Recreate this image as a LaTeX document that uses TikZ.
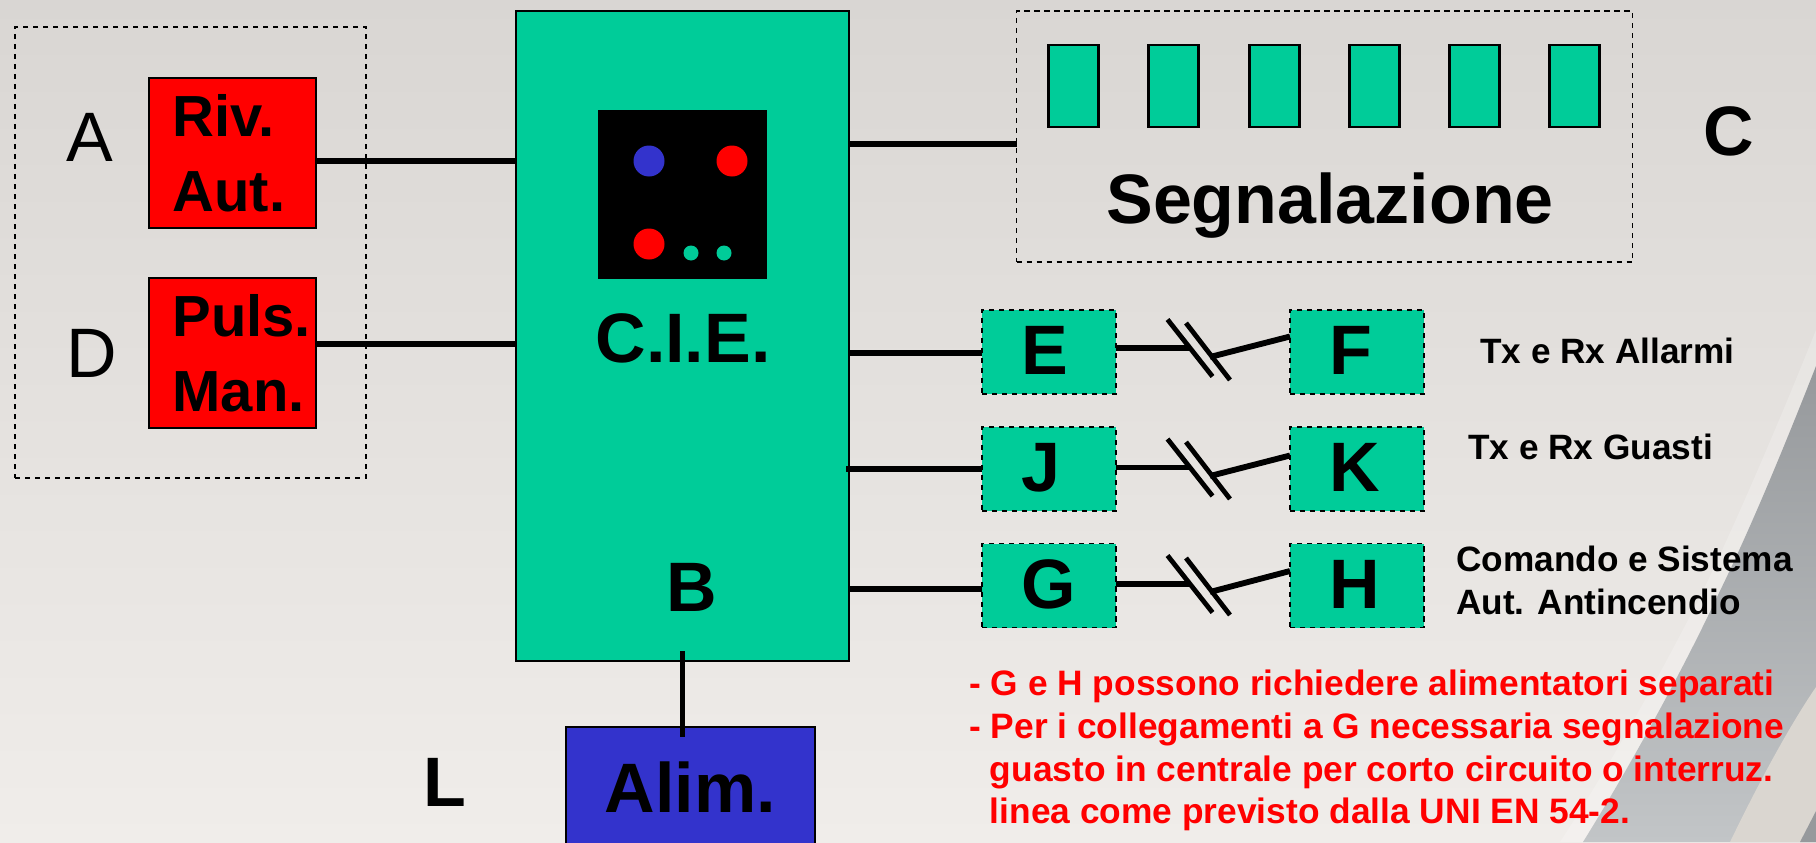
\documentclass[tikz,border=0pt]{standalone}
\usepackage{fontspec}
\setmainfont{Liberation Sans}
\usepackage{xcolor}
\definecolor{cieteal}{HTML}{00CC99}
\definecolor{alimblue}{HTML}{3333CC}
\definecolor{backtop}{HTML}{D9D6D3}
\definecolor{backfoot}{HTML}{F0EDEA}
\definecolor{bandtop}{HTML}{96999C}
\definecolor{bandfoot}{HTML}{C2C5C7}
\definecolor{creamband}{HTML}{DAD6D0}
\begin{document}
\begin{tikzpicture}[x=0.75pt,y=-0.75pt,
		bigfont/.style={font=\bfseries\fontsize{52.5}{63}\selectfont},
		box/.style={draw=black,line width=1.7pt,inner sep=0pt,outer sep=0pt},
		dashbox/.style={draw=black,line width=1.1pt,dash pattern=on 4pt off 3.5pt,outer sep=0pt},
		sensor/.style={box,fill=red,minimum width=125pt,minimum height=112.5pt,inner xsep=17.5pt,text width=90pt,align=left,font=\bfseries\fontsize{43.5}{53.25}\selectfont,execute at begin node={\vspace*{3pt}}},
		lamp/.style={box,fill=cieteal,minimum width=37.5pt,minimum height=62pt},
		relay/.style={dashbox,fill=cieteal,minimum width=100.5pt,minimum height=63pt,inner xsep=29.5pt,inner ysep=0pt,text width=41.5pt,align=left,text height=33.75pt,text depth=0pt,bigfont},
		led/.style={circle,minimum size=23.25pt,inner sep=0pt},
		minled/.style={circle,fill=cieteal,minimum size=11.25pt,inner sep=0pt},
		tag/.style={inner sep=0pt,anchor=base,bigfont},
		thintag/.style={inner sep=0pt,anchor=base west,font=\fontsize{52.5}{63}\selectfont},
		note/.style={inner sep=0pt,anchor=base west,align=left,font=\bfseries\fontsize{26.4}{32}\selectfont},
		rednote/.style={inner sep=0pt,anchor=north west,align=left,text=red,font=\bfseries\fontsize{26.5}{32}\selectfont},
		wire/.style={line width=4.4pt},
		cut/.style={line width=3.6pt}]
	\useasboundingbox (0,0) rectangle (1816,842);
	\shade[top color=backtop,bottom color=backfoot] (0,0) rectangle (1816,842);
	\fill[white,opacity=0.2] (1816,330) .. controls (1780,420) and (1735,525) .. (1700,597) .. controls (1670,655) and (1620,750) .. (1560,842) -- (1816,842) -- cycle;
	\shade[top color=bandtop,bottom color=bandfoot] (1816,366) .. controls (1785,445) and (1750,530) .. (1717,597) .. controls (1690,655) and (1640,750) .. (1583,842) -- (1816,842) -- cycle;
	\fill[creamband] (1816,687) .. controls (1790,725) and (1760,780) .. (1730,842) -- (1816,842) -- cycle;
	\fill[bandtop] (1816,811) -- (1800,842) -- (1816,842) -- cycle;

	\node[dashbox,minimum width=263.25pt,minimum height=338.25pt] (inputs) at (190.5,252.5) {};
	\node[thintag] (tagA) at (66,161) {A};
	\node[thintag] (tagD) at (66,377) {D};
	\node[sensor] (riv) at (232.5,153) {Riv.\\Aut.};
	\node[sensor] (puls) at (232.5,353) {Puls.\\Man.};

	\node[box,fill=cieteal,minimum width=249.5pt,minimum height=487.5pt] (cie) at (682.5,336) {};
	\node[box,draw=none,fill=black,minimum width=126.75pt,minimum height=126.75pt] (panel) at (682.5,194.5) {};
	\node[led,fill=alimblue] (ledblue) at (649,161) {};
	\node[led,fill=red] (ledright) at (732,161) {};
	\node[led,fill=red] (ledleft) at (649,244) {};
	\node[minled] (minledone) at (691,253) {};
	\node[minled] (minledtwo) at (724,253) {};
	\node[tag] (cielabel) at (683,362) {C.I.E.};
	\node[tag] (tagB) at (691.5,611) {B};

	\node[dashbox,minimum width=462pt,minimum height=188.25pt] (signal) at (1324.5,136.5) {};
	\node[lamp] (lampone) at (1073.5,86) {};
	\node[lamp] (lamptwo) at (1173.5,86) {};
	\node[lamp] (lampthree) at (1274.5,86) {};
	\node[lamp] (lampfour) at (1374.5,86) {};
	\node[lamp] (lampfive) at (1474.5,86) {};
	\node[lamp] (lampsix) at (1574.5,86) {};
	\node[tag] (signallabel) at (1330,223) {Segnalazione};
	\node[tag] (tagC) at (1729,155) {C};

	\node[relay] (e) at (1049,352) {E};
	\node[relay] (f) at (1357,352) {F};
	\node[relay] (j) at (1049,469) {J};
	\node[relay] (k) at (1357,469) {K};
	\node[relay] (g) at (1049,585.5) {G};
	\node[relay] (h) at (1357,585.5) {H};
	\node[note] (notealarm) at (1480,363) {Tx e Rx Allarmi};
	\node[note] (notefault) at (1468,459) {Tx e Rx Guasti};
	\node[note] (notecommand) at (1456,614) {Comando e Sistema\\Aut. Antincendio};
	\node[rednote] (noteextra) at (969,670) {- G e H possono richiedere alimentatori separati\\- Per i collegamenti a G necessaria segnalazione\\\hspace*{15.5pt}guasto in centrale per corto circuito o interruz.\\\hspace*{15.5pt}linea come previsto dalla UNI EN 54-2.};

	\node[box,fill=alimblue,minimum width=187.25pt,minimum height=127.5pt,text height=37.5pt,text depth=37.5pt,bigfont] (alim) at (690.5,812) {Alim.};
	\node[tag] (tagL) at (445,806) {L};

	\draw[wire] (riv.east |- 0,161) -- (cie.west |- 0,161);
	\draw[wire] (puls.east |- 0,344) -- (cie.west |- 0,344);
	\draw[wire] (cie.east |- 0,144) -- (signal.west |- 0,144);
	\draw[wire] (cie.east |- 0,353) -- (e.west |- 0,353);
	\draw[wire] ([xshift=-2pt]cie.east |- 0,469) -- (j.west |- 0,469);
	\draw[wire] (cie.east |- 0,589) -- (g.west |- 0,589);
	\draw[wire] ([yshift=7.5pt]cie.south) -- ([yshift=-7.5pt]cie.south |- alim.north);

	\coordinate (eleft) at (1190,348);
	\coordinate (eright) at (1210,357);
	\coordinate (jleft) at (1190,467.5);
	\coordinate (jright) at (1210,476);
	\coordinate (gleft) at (1190,584);
	\coordinate (gright) at (1210,592);
	\draw[wire] (e.east |- eleft) -- (eleft);
	\draw[cut] ([shift={(-22.5,-28.5)}]eleft) -- ([shift={(22.5,28.5)}]eleft);
	\draw[cut] ([shift={(-24,-34)}]eright) -- ([shift={(20,23)}]eright);
	\draw[wire] (eright) -- (f.west |- 0,336.5);
	\draw[wire] (j.east |- jleft) -- (jleft);
	\draw[cut] ([shift={(-22.5,-28.5)}]jleft) -- ([shift={(22.5,28.5)}]jleft);
	\draw[cut] ([shift={(-24,-34)}]jright) -- ([shift={(20,23)}]jright);
	\draw[wire] (jright) -- (k.west |- 0,455.5);
	\draw[wire] (g.east |- gleft) -- (gleft);
	\draw[cut] ([shift={(-22.5,-28.5)}]gleft) -- ([shift={(22.5,28.5)}]gleft);
	\draw[cut] ([shift={(-24,-34)}]gright) -- ([shift={(20,23)}]gright);
	\draw[wire] (gright) -- (h.west |- 0,571);
\end{tikzpicture}
\end{document}
